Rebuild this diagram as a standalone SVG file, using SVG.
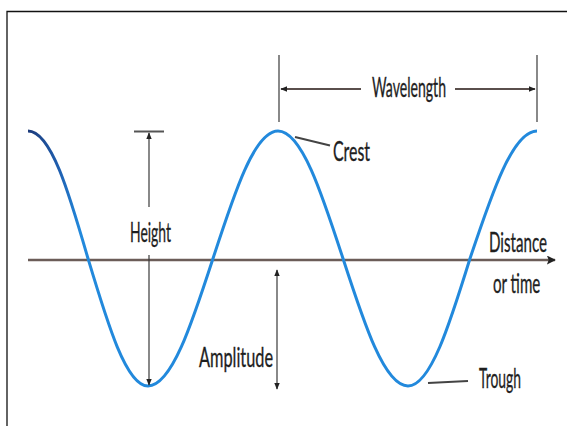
<svg xmlns="http://www.w3.org/2000/svg" width="567" height="426" viewBox="0 0 567 426">
<style>
.lbl{font-family:Lato,"Open Sans","Liberation Sans",sans-serif;font-size:27px;fill:#1e1e1e;stroke:#1e1e1e;stroke-width:0.35}
.dim{stroke:#3a3a3a;stroke-width:1.2;fill:none}
.lead{stroke:#444;stroke-width:2;fill:none}
</style>
<defs>
<marker id="ah" viewBox="0 0 10 10" refX="9" refY="5" markerWidth="7" markerHeight="7" markerUnits="userSpaceOnUse" orient="auto-start-reverse">
<path d="M0,1 L10,5 L0,9 Z" fill="#222"/>
</marker>
<marker id="axh" viewBox="0 0 10 10" refX="9" refY="5" markerWidth="9" markerHeight="9" markerUnits="userSpaceOnUse" orient="auto">
<path d="M0,0 L10,5 L0,10 L2,5 Z" fill="#222"/>
</marker>
<linearGradient id="wg" gradientUnits="userSpaceOnUse" x1="28" y1="0" x2="80" y2="0">
<stop offset="0" stop-color="#1c3a7a"/>
<stop offset="0.6" stop-color="#1f5fb0"/>
<stop offset="1" stop-color="#2289dc"/>
</linearGradient>
</defs>
<rect width="567" height="426" fill="#fff"/>
<g id="frame" stroke="#111" stroke-width="1.3" fill="none">
<path d="M7,426 L7,11.5 L567,11.5"/>
</g>
<g id="axis">
<line x1="28" y1="260" x2="555" y2="260" stroke="#6b5d58" stroke-width="2.5" marker-end="url(#axh)"/>
</g>
<g id="wave">
<path d="M28,131 C51,131 69.1,193.2 88,258.5 C107.6,323.8 126.25,386 148,386 C171.6,386 191.8,323.8 213,258.5 C234.2,193.2 254.4,131 278,131 C301.6,131 321.8,193.2 343,258.5 C364.2,323.8 384.4,386 408,386 C430.5,386 449.8,323.8 470,258.5 C491.8,193.2 512.7,131 537,131" fill="none" stroke="url(#wg)" stroke-width="3"/>
</g>
<g id="connectors">
<line x1="134" y1="131.5" x2="164" y2="131.5" stroke="#555" stroke-width="2"/>
<line class="dim" x1="149" y1="207" x2="149" y2="133" marker-end="url(#ah)"/>
<line class="dim" x1="149" y1="255" x2="149" y2="385" marker-end="url(#ah)"/>
<line class="dim" x1="277" y1="270" x2="277" y2="389" marker-start="url(#ah)" marker-end="url(#ah)"/>
<line class="dim" x1="279" y1="55" x2="279" y2="122"/>
<line class="dim" x1="537" y1="55" x2="537" y2="122"/>
<line x1="361" y1="89" x2="281" y2="89" stroke="#5a4f4c" stroke-width="1.8" marker-end="url(#ah)"/>
<line x1="455" y1="89" x2="535" y2="89" stroke="#5a4f4c" stroke-width="1.8" marker-end="url(#ah)"/>
<line class="lead" x1="295" y1="137" x2="330" y2="145.5"/>
<line class="lead" x1="428" y1="383" x2="468" y2="381"/>
</g>
<g id="label-wavelength"><text class="lbl" x="372" y="97" textLength="74" lengthAdjust="spacingAndGlyphs">Wavelength</text></g>
<g id="label-crest"><text class="lbl" x="333" y="161" textLength="37" lengthAdjust="spacingAndGlyphs">Crest</text></g>
<g id="label-height"><text class="lbl" x="130" y="242" textLength="41" lengthAdjust="spacingAndGlyphs">Height</text></g>
<g id="label-distance">
<text class="lbl" transform="translate(489,252) scale(0.56,1)" x="0" y="0">Distance</text>
<text class="lbl" transform="translate(493,293) scale(0.56,1)" x="0" y="0">or time</text>
</g>
<g id="label-amplitude"><text class="lbl" x="199" y="367" textLength="74" lengthAdjust="spacingAndGlyphs">Amplitude</text></g>
<g id="label-trough"><text class="lbl" x="479" y="388" textLength="42" lengthAdjust="spacingAndGlyphs">Trough</text></g>
</svg>
